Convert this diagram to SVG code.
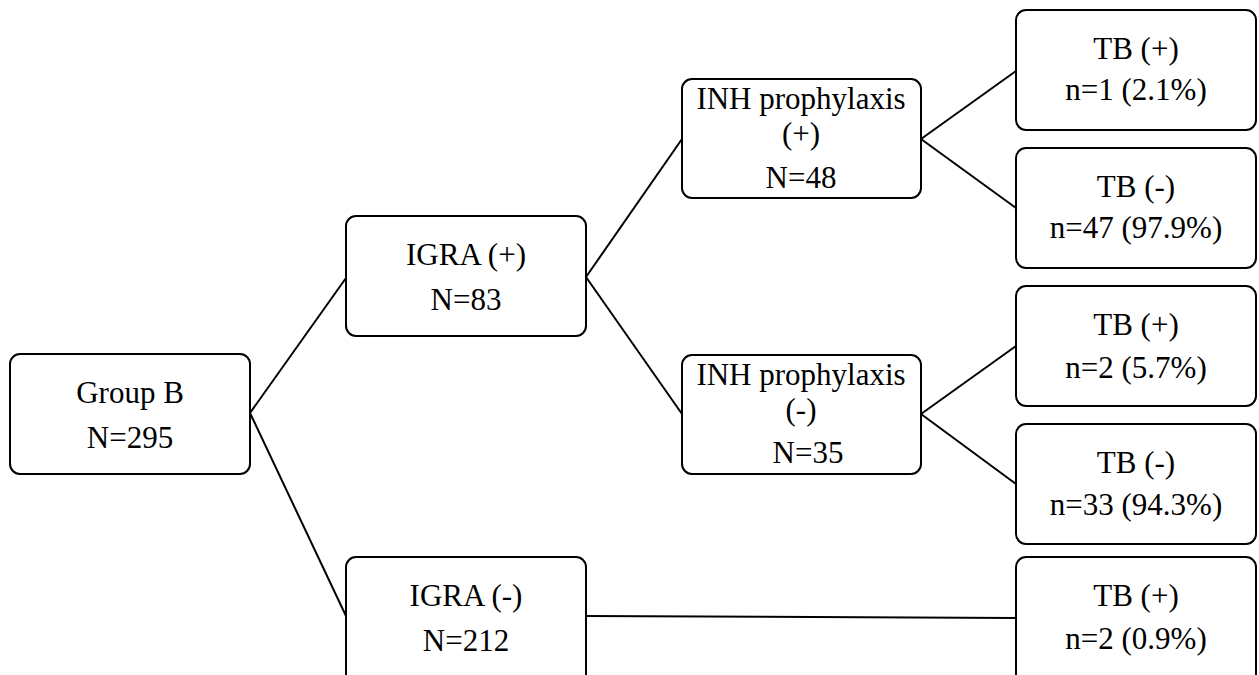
<svg xmlns="http://www.w3.org/2000/svg" width="1259" height="675" viewBox="0 0 1259 675">
<style>
.box{fill:#fff;stroke:#000;stroke-width:2}
.t{font-family:"Liberation Serif","Times New Roman",serif;font-size:31px;fill:#000;text-anchor:middle}
.c{stroke:#000;stroke-width:2;fill:none}
</style>
<rect width="1259" height="675" fill="#fff"/>
<g id="connectors">
<line class="c" x1="250" y1="413" x2="346" y2="278"/>
<line class="c" x1="250" y1="413" x2="346" y2="616"/>
<line class="c" x1="586" y1="277" x2="682" y2="139"/>
<line class="c" x1="586" y1="277" x2="682" y2="414"/>
<line class="c" x1="921" y1="139" x2="1016" y2="71"/>
<line class="c" x1="921" y1="139" x2="1016" y2="208"/>
<line class="c" x1="921" y1="414" x2="1016" y2="346"/>
<line class="c" x1="921" y1="414" x2="1016" y2="484"/>
<line class="c" x1="586" y1="616" x2="1016" y2="618"/>
</g>
<g id="groupB">
<rect class="box" x="10" y="354" width="240" height="120" rx="10"/>
<text class="t" x="130" y="403">Group B</text>
<text class="t" x="130" y="448">N=295</text>
</g>
<g id="igraPos">
<rect class="box" x="346" y="216" width="240" height="120" rx="10"/>
<text class="t" x="466" y="265">IGRA (+)</text>
<text class="t" x="466" y="310">N=83</text>
</g>
<g id="igraNeg">
<rect class="box" x="346" y="557" width="240" height="130" rx="10"/>
<text class="t" x="466" y="606">IGRA (-)</text>
<text class="t" x="466" y="651">N=212</text>
</g>
<g id="inhPos">
<rect class="box" x="682" y="79" width="239" height="119" rx="10"/>
<text class="t" x="801" y="109">INH prophylaxis</text>
<text class="t" x="801" y="144">(+)</text>
<text class="t" x="801" y="188">N=48</text>
</g>
<g id="inhNeg">
<rect class="box" x="682" y="355" width="239" height="119" rx="10"/>
<text class="t" x="801" y="385">INH prophylaxis</text>
<text class="t" x="801" y="420">(-)</text>
<text class="t" x="808" y="463">N=35</text>
</g>
<g id="tb1">
<rect class="box" x="1016" y="10" width="240" height="120" rx="10"/>
<text class="t" x="1136" y="59">TB (+)</text>
<text class="t" x="1136" y="100">n=1 (2.1%)</text>
</g>
<g id="tb2">
<rect class="box" x="1016" y="148" width="240" height="120" rx="10"/>
<text class="t" x="1136" y="197">TB (-)</text>
<text class="t" x="1136" y="238">n=47 (97.9%)</text>
</g>
<g id="tb3">
<rect class="box" x="1016" y="286" width="240" height="120" rx="10"/>
<text class="t" x="1136" y="335">TB (+)</text>
<text class="t" x="1136" y="378">n=2 (5.7%)</text>
</g>
<g id="tb4">
<rect class="box" x="1016" y="424" width="240" height="120" rx="10"/>
<text class="t" x="1136" y="473">TB (-)</text>
<text class="t" x="1136" y="515">n=33 (94.3%)</text>
</g>
<g id="tb5">
<rect class="box" x="1016" y="557" width="240" height="130" rx="10"/>
<text class="t" x="1136" y="606">TB (+)</text>
<text class="t" x="1136" y="649">n=2 (0.9%)</text>
</g>
</svg>
